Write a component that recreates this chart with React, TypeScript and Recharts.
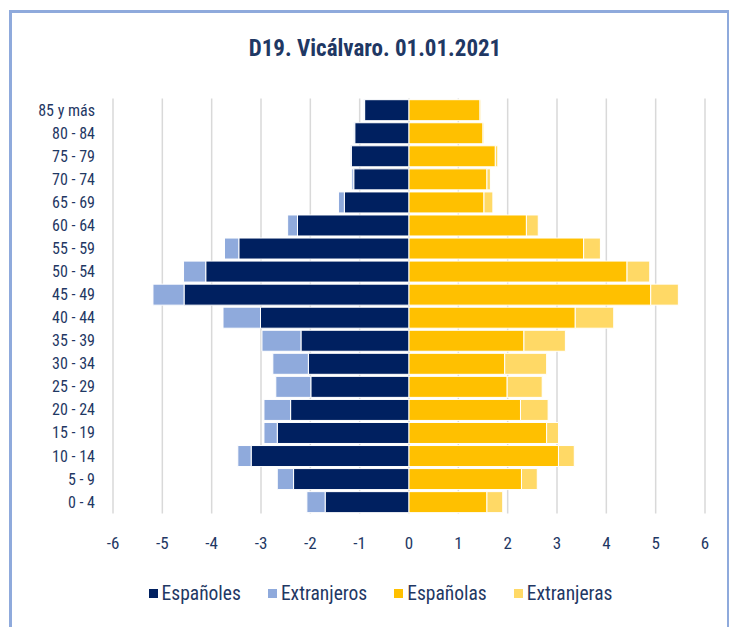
import { BarChart, Bar, XAxis, YAxis, CartesianGrid, Legend } from "recharts";

const ageGroups = [
  "85 y más", "80 - 84", "75 - 79", "70 - 74", "65 - 69", "60 - 64",
  "55 - 59", "50 - 54", "45 - 49", "40 - 44", "35 - 39", "30 - 34",
  "25 - 29", "20 - 24", "15 - 19", "10 - 14", "5 - 9", "0 - 4",
];

// hombres (se dibujan en negativo)
const espanoles = [0.9, 1.1, 1.17, 1.12, 1.31, 2.26, 3.45, 4.12, 4.56, 3.01, 2.19, 2.04, 1.99, 2.4, 2.67, 3.2, 2.34, 1.7];
const extranjeros = [0.02, 0.02, 0.02, 0.04, 0.12, 0.2, 0.29, 0.45, 0.63, 0.76, 0.79, 0.72, 0.71, 0.54, 0.27, 0.27, 0.33, 0.37];
// mujeres
const espanolas = [1.44, 1.5, 1.75, 1.58, 1.52, 2.38, 3.54, 4.42, 4.9, 3.37, 2.33, 1.94, 1.99, 2.26, 2.79, 3.03, 2.28, 1.58];
const extranjeras = [0.02, 0.02, 0.05, 0.07, 0.18, 0.24, 0.34, 0.46, 0.56, 0.78, 0.84, 0.85, 0.71, 0.56, 0.24, 0.32, 0.32, 0.32];

const xTicks = [-6, -5, -4, -3, -2, -1, 0, 1, 2, 3, 4, 5, 6];

const data = ageGroups.map((age, i) => ({
  age,
  espanoles: -espanoles[i],
  extranjeros: -extranjeros[i],
  espanolas: espanolas[i],
  extranjeras: extranjeras[i],
}));

const navy = "#1f3864";
const font = "'Liberation Sans Narrow', 'Roboto Condensed', 'Open Sans', sans-serif";

const legendItems = [
  { label: "Españoles", color: "#002060" },
  { label: "Extranjeros", color: "#8faadc" },
  { label: "Españolas", color: "#ffc000" },
  { label: "Extranjeras", color: "#ffd966" },
];

const renderLegend = () => (
  <div style={{ display: "flex", justifyContent: "center", gap: 27, fontFamily: font, fontSize: 19.5, color: navy }}>
    {legendItems.map((it) => (
      <div key={it.label} style={{ display: "flex", alignItems: "center" }}>
        <span style={{ width: 9, height: 9, background: it.color, marginRight: 4, display: "inline-block" }} />
        {it.label}
      </div>
    ))}
  </div>
);

export default function App() {
  return (
    <div style={{ position: "absolute", left: 0, top: 0, width: 729, height: 627, overflow: "hidden", background: "#fff" }}>
      <div
        style={{
          position: "absolute",
          left: 9,
          top: 10,
          width: 715,
          height: 640,
          border: "3px solid #8faadc",
        }}
      />
      <div
        style={{
          position: "absolute",
          top: 35,
          left: 12,
          width: 726,
          textAlign: "center",
          fontFamily: font,
          fontWeight: "bold",
          fontSize: 23,
          color: navy,
        }}
      >
        D19. Vicálvaro. 01.01.2021
      </div>
      <BarChart
        width={729}
        height={627}
        data={data}
        layout="vertical"
        stackOffset="sign"
        barCategoryGap={1.2}
        margin={{ top: 98.5, right: 24, bottom: 73.5, left: 0 }}
        style={{ position: "absolute", left: 0, top: 0 }}
      >
        <CartesianGrid horizontal={false} stroke="#d9d9d9" strokeWidth={1.5} />
        <XAxis
          type="number"
          domain={[-6, 6]}
          ticks={xTicks}
          axisLine={false}
          tickLine={false}
          tickSize={0}
          tickMargin={23}
          height={40}
          tick={{ fill: navy, fontSize: 17, fontFamily: font }}
        />
        <YAxis
          type="category"
          dataKey="age"
          width={113}
          axisLine={false}
          tickLine={false}
          tickSize={0}
          tickMargin={18}
          interval={0}
          tick={{ fill: navy, fontSize: 16, fontFamily: font }}
        />
        <Legend
          verticalAlign="middle"
          align="center"
          content={renderLegend}
          wrapperStyle={{ top: 582, left: 16, width: 729 }}
        />
        <Bar dataKey="espanoles" name="Españoles" stackId="a" fill="#002060" stroke="#fff" strokeWidth={1} isAnimationActive={false} />
        <Bar dataKey="extranjeros" name="Extranjeros" stackId="a" fill="#8faadc" stroke="#fff" strokeWidth={1} isAnimationActive={false} />
        <Bar dataKey="espanolas" name="Españolas" stackId="a" fill="#ffc000" stroke="#fff" strokeWidth={1} isAnimationActive={false} />
        <Bar dataKey="extranjeras" name="Extranjeras" stackId="a" fill="#ffd966" stroke="#fff" strokeWidth={1} isAnimationActive={false} />
      </BarChart>
    </div>
  );
}
